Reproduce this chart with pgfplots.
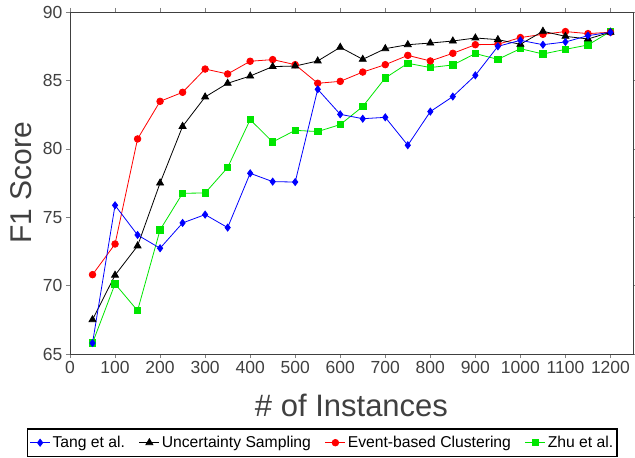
\documentclass[border=0pt]{standalone}
\usepackage{fontspec}
\setmainfont{Liberation Sans}
\usepackage{pgfplots}
\pgfplotsset{compat=1.18}

\definecolor{txtgray}{HTML}{404040}
\definecolor{pblue}{RGB}{0,0,255}
\definecolor{pred}{RGB}{255,0,0}
\definecolor{pgreen}{RGB}{0,230,0}

\begin{document}
\begin{tikzpicture}
\begin{axis}[
    scale only axis,
    width=563pt, height=342pt,
    xmin=0, xmax=1250,
    ymin=65, ymax=90,
    xtick={0,100,...,1200},
    ytick={65,70,...,90},
    tick align=outside,
    major tick length=4pt,
    tick style={gray, thin},
    axis line style={black!75, line width=0.8pt},
    /pgf/number format/assume math mode=true,
    /pgf/number format/1000 sep={},
    ticklabel style={font=\fontsize{17.5}{20}\selectfont, text=txtgray},
    xlabel={\# of Instances},
    ylabel={F1 Score},
    xlabel style={font=\fontsize{31}{36}\selectfont, text=txtgray,
        at={(axis description cs:0.5,-0.184)}, anchor=base},
    ylabel style={font=\fontsize{30}{36}\selectfont, text=txtgray,
        at={(axis description cs:-0.0675,0.5)}, anchor=base},
    legend columns=4,
    reverse legend,
    legend style={
        at={(axis description cs:-0.0764,-0.2164)}, anchor=north west,
        draw=black, line width=1.5pt,
        font=\fontsize{15.7}{18}\selectfont,
        inner xsep=2pt, inner ysep=5.5pt,
        /tikz/every even column/.append style={column sep=12pt},
    },
    legend image code/.code={
        \draw[mark repeat=2, mark phase=2, #1]
            plot coordinates {(0pt,0pt) (10pt,0pt) (20pt,0pt)};
    },
    legend cell align=left,
    every axis plot/.append style={line width=0.8pt},
]
\addplot[color=pgreen, mark=square*, mark size=3.2pt, mark options={solid}] coordinates {
(50,65.8) (100,70.13) (150,68.17) (200,74.07) (250,76.75) (300,76.77)
(350,78.63) (400,82.13) (450,80.50) (500,81.35) (550,81.26) (600,81.77)
(650,83.09) (700,85.18) (750,86.25) (800,85.94) (850,86.13) (900,86.96)
(950,86.54) (1000,87.32) (1050,86.93) (1100,87.27) (1150,87.59) (1200,88.57)
};
\addlegendentry{Zhu et al.}
\addplot[color=pred, mark=*, mark size=3.3pt] coordinates {
(50,70.80) (100,73.04) (150,80.72) (200,83.47) (250,84.13) (300,85.83)
(350,85.47) (400,86.40) (450,86.52) (500,86.15) (550,84.79) (600,84.93)
(650,85.61) (700,86.15) (750,86.83) (800,86.42) (850,86.98) (900,87.61)
(950,87.64) (1000,88.13) (1050,88.37) (1100,88.57) (1150,88.42) (1200,88.52)
};
\addlegendentry{Event-based Clustering}
\addplot[color=black, mark=triangle*, mark size=4pt] coordinates {
(50,67.51) (100,70.76) (150,72.90) (200,77.50) (250,81.64) (300,83.79)
(350,84.79) (400,85.32) (450,86.01) (500,86.05) (550,86.42) (600,87.42)
(650,86.54) (700,87.32) (750,87.61) (800,87.73) (850,87.88) (900,88.10)
(950,87.98) (1000,87.64) (1050,88.59) (1100,88.22) (1150,88.03) (1200,88.52)
};
\addlegendentry{Uncertainty Sampling}
\addplot[color=pblue, mark=diamond*, mark size=3.5pt] coordinates {
(50,65.8) (100,75.87) (150,73.70) (200,72.73) (250,74.58) (300,75.19)
(350,74.24) (400,78.21) (450,77.60) (500,77.57) (550,84.35) (600,82.52)
(650,82.20) (700,82.30) (750,80.26) (800,82.72) (850,83.82) (900,85.37)
(950,87.49) (1000,87.93) (1050,87.61) (1100,87.81) (1150,88.27) (1200,88.52)
};
\addlegendentry{Tang et al.}
\draw[gray!70, line width=0.6pt] ([xshift=-3pt]rel axis cs:0,1) -- ([xshift=-3pt,yshift=-3pt]rel axis cs:0,0) -- ([yshift=-3pt]rel axis cs:1,0);
\end{axis}
\pgfresetboundingbox
\useasboundingbox (current axis.south west) ++(-70pt,-104pt) rectangle ++(635pt,458pt);
\end{tikzpicture}
\end{document}
